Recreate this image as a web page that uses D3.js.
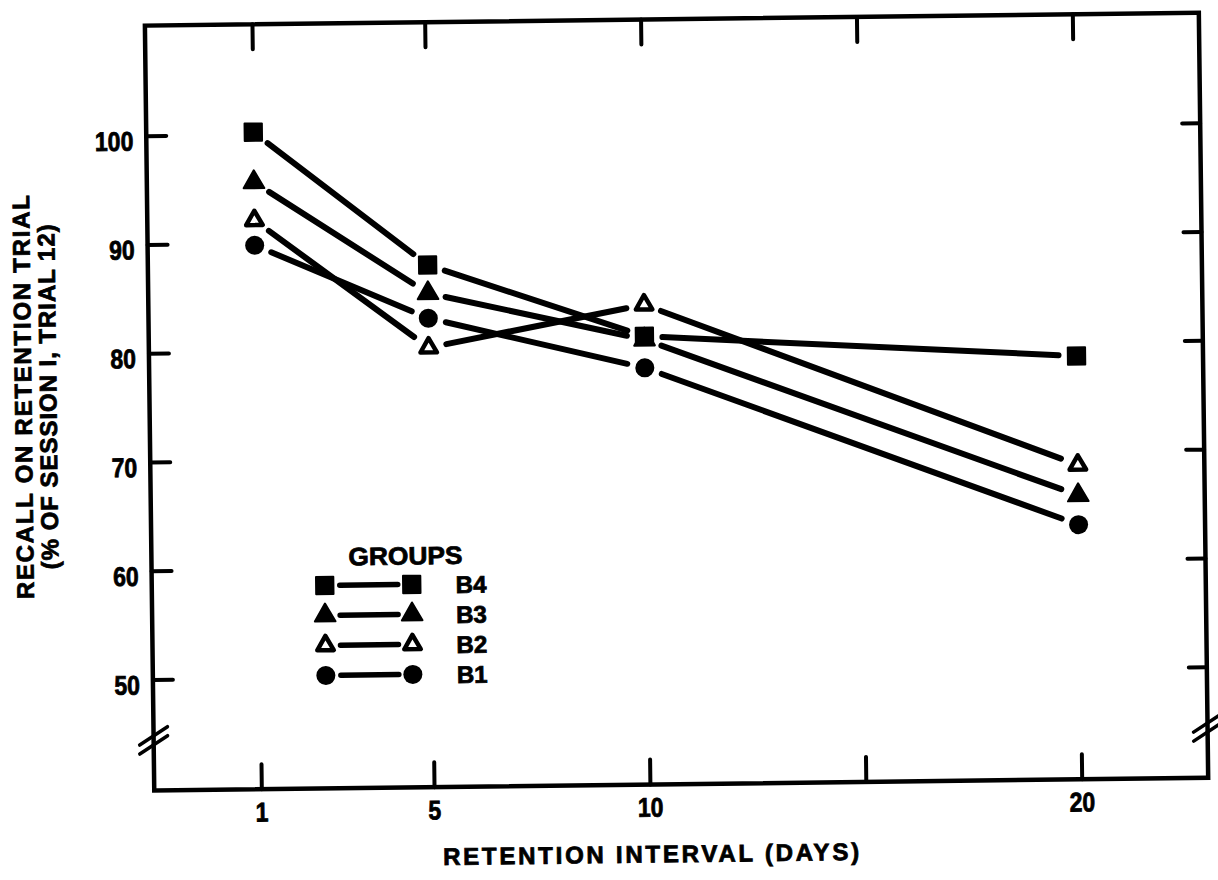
<!DOCTYPE html>
<html>
<head>
<meta charset="utf-8">
<script src="https://cdn.jsdelivr.net/npm/d3@7"></script>
<style>
  body { margin: 0; background: #fff; }
  svg text { font-family: "Liberation Sans", Arial, Helvetica, sans-serif; font-weight: bold; fill: #000; stroke: #000; stroke-width: 0.8px; }
</style>
</head>
<body>
<svg id="chart" width="1218" height="880"></svg>
<script>
// retention interval (days) and recall (% of session I, trial 12)
var days = [1, 5, 10, 20];
var groupNames = ["B4", "B3", "B2", "B1"];
var recallB4 = [100.2, 87.8, 81.0, 78.7];
var recallB3 = [95.6, 85.2, 80.7, 65.9];
var recallB2 = [92.1, 80.2, 83.9, 68.7];
var recallB1 = [89.8, 82.9, 78.1, 63.2];
var xTickValues = [1, 5, 10, 15, 20];
var xTickLabels = [1, 5, 10, 20];
var yTickValues = [50, 60, 70, 80, 90, 100];

var series = [
	{name: "B1", values: recallB1, shape: "circle"},
	{name: "B2", values: recallB2, shape: "openTri"},
	{name: "B3", values: recallB3, shape: "tri"},
	{name: "B4", values: recallB4, shape: "square"}
];

var svg = d3.select("#chart");
var frame = {left: 150, right: 1204, top: 20, bottom: 785};

// scanned page is a little tilted
var root = svg.append("g").attr("transform", "rotate(-0.7, 609, 440)");

var x = d3.scaleLinear().domain([0, 20]).range([213.9, 1077.5]);
var y = d3.scaleLinear().domain([50, 100]).range([674, 130]);

// symbols
function drawSymbol(sel, shape) {
	if (shape === "square") {
		sel.append("path").attr("d", d3.symbol(d3.symbolSquare, 300)()).attr("fill", "#000")
			.attr("stroke", "#000").attr("stroke-width", 2).attr("stroke-linejoin", "round");
	} else if (shape === "circle") {
		sel.append("path").attr("d", d3.symbol(d3.symbolCircle, 285)()).attr("fill", "#000");
	} else if (shape === "tri") {
		sel.append("path").attr("d", d3.symbol(d3.symbolTriangle, 185)()).attr("fill", "#000")
			.attr("stroke", "#000").attr("stroke-width", 2).attr("stroke-linejoin", "round");
	} else {
		sel.append("path").attr("d", d3.symbol(d3.symbolTriangle, 118)()).attr("fill", "#fff")
			.attr("stroke", "#000").attr("stroke-width", 4.5).attr("stroke-linejoin", "round");
	}
}

// tick labels in the scan are tall and narrow
function condense(sel) {
	sel.each(function() {
		var t = d3.select(this), s = t.text();
		if (s) t.attr("textLength", s.length * 12.8).attr("lengthAdjust", "spacingAndGlyphs");
	});
}

// frame
root.append("rect")
	.attr("x", frame.left).attr("y", frame.top)
	.attr("width", frame.right - frame.left).attr("height", frame.bottom - frame.top)
	.attr("fill", "none").attr("stroke", "#000").attr("stroke-width", 4.5);

// axes
function styleAxis(g) {
	g.select(".domain").remove();
	g.selectAll(".tick line").attr("stroke", "#000").attr("stroke-width", 4).attr("stroke-linecap", "round");
}

root.append("g")
	.attr("transform", "translate(" + frame.left + ",0)")
	.call(d3.axisLeft(y).tickValues(yTickValues).tickSize(-20).tickPadding(13))
	.call(styleAxis)
	.call(g => g.selectAll(".tick text").attr("dy", "0.53em").style("font-size", "27px").call(condense));

root.append("g")
	.attr("transform", "translate(" + frame.right + ",0)")
	.call(d3.axisRight(y).tickValues(yTickValues).tickSize(-18).tickFormat(""))
	.call(styleAxis);

root.append("g")
	.attr("transform", "translate(0," + frame.bottom + ")")
	.call(d3.axisBottom(x).tickValues(xTickValues).tickSize(-25).tickPadding(13)
		.tickFormat(d => xTickLabels.includes(d) ? d : ""))
	.call(styleAxis)
	.call(g => g.selectAll(".tick text").style("font-size", "27px").call(condense));

root.append("g")
	.attr("transform", "translate(0," + frame.top + ")")
	.call(d3.axisTop(x).tickValues(xTickValues).tickSize(-25).tickFormat(""))
	.call(styleAxis);

// axis breaks
var breakY = y(44);
[frame.left, frame.right].forEach(function(bx) {
	[0, -9].forEach(function(off) {
		root.append("line")
			.attr("x1", bx - 14).attr("y1", breakY + off + 9)
			.attr("x2", bx + 14).attr("y2", breakY + off - 9)
			.attr("stroke", "#000").attr("stroke-width", 3.5).attr("stroke-linecap", "round");
	});
});

// axis titles
root.append("text")
	.attr("x", 646).attr("y", 863)
	.attr("text-anchor", "middle")
	.attr("textLength", 416).attr("lengthAdjust", "spacing")
	.style("font-size", "24px")
	.text("RETENTION  INTERVAL  (DAYS)");

var yTitle = root.append("g").attr("transform", "translate(0,390) rotate(-90)");
yTitle.append("text")
	.attr("x", 0).attr("y", 32)
	.attr("text-anchor", "middle")
	.attr("textLength", 404).attr("lengthAdjust", "spacing")
	.style("font-size", "24px")
	.text("RECALL ON RETENTION TRIAL");
yTitle.append("text")
	.attr("x", 0).attr("y", 57)
	.attr("text-anchor", "middle")
	.attr("textLength", 345).attr("lengthAdjust", "spacing")
	.style("font-size", "24px")
	.text("(% OF SESSION I, TRIAL 12)");

// lines with gaps around the markers
var gap = 18;
series.forEach(function(s) {
	var pts = days.map((d, i) => [x(d), y(s.values[i])]);
	root.append("g").selectAll("line")
		.data(d3.pairs(pts))
		.enter().append("line")
		.each(function(pq) {
			var p = pq[0], q = pq[1];
			var dx = q[0] - p[0], dy = q[1] - p[1], len = Math.hypot(dx, dy);
			var ux = dx / len, uy = dy / len;
			d3.select(this)
				.attr("x1", p[0] + ux * gap).attr("y1", p[1] + uy * gap)
				.attr("x2", q[0] - ux * gap).attr("y2", q[1] - uy * gap);
		})
		.attr("stroke", "#000").attr("stroke-width", 6).attr("stroke-linecap", "round");
});

series.forEach(function(s) {
	root.append("g").selectAll("g")
		.data(s.values)
		.enter().append("g")
		.attr("transform", (v, i) => "translate(" + x(days[i]) + "," + y(v) + ")")
		.each(function() { drawSymbol(d3.select(this), s.shape); });
});

// legend
var legend = root.append("g");
legend.append("text")
	.attr("x", 347).attr("y", 562)
	.attr("textLength", 114).attr("lengthAdjust", "spacingAndGlyphs")
	.style("font-size", "25px")
	.text("GROUPS");

var legendRows = legend.selectAll(".row")
	.data(groupNames)
	.enter().append("g")
	.attr("class", "row")
	.attr("transform", (d, i) => "translate(0," + (582 + i * 30) + ")");

legendRows.each(function(name) {
	var row = d3.select(this);
	var s = series.find(ss => ss.name === name);
	drawSymbol(row.append("g").attr("transform", "translate(323,0)"), s.shape);
	row.append("line")
		.attr("x1", 338).attr("x2", 396)
		.attr("stroke", "#000").attr("stroke-width", 5.5).attr("stroke-linecap", "round");
	drawSymbol(row.append("g").attr("transform", "translate(410,0)"), s.shape);
	row.append("text")
		.attr("x", 454).attr("y", 9)
		.style("font-size", "24px")
		.text(name);
});
</script>
</body>
</html>
